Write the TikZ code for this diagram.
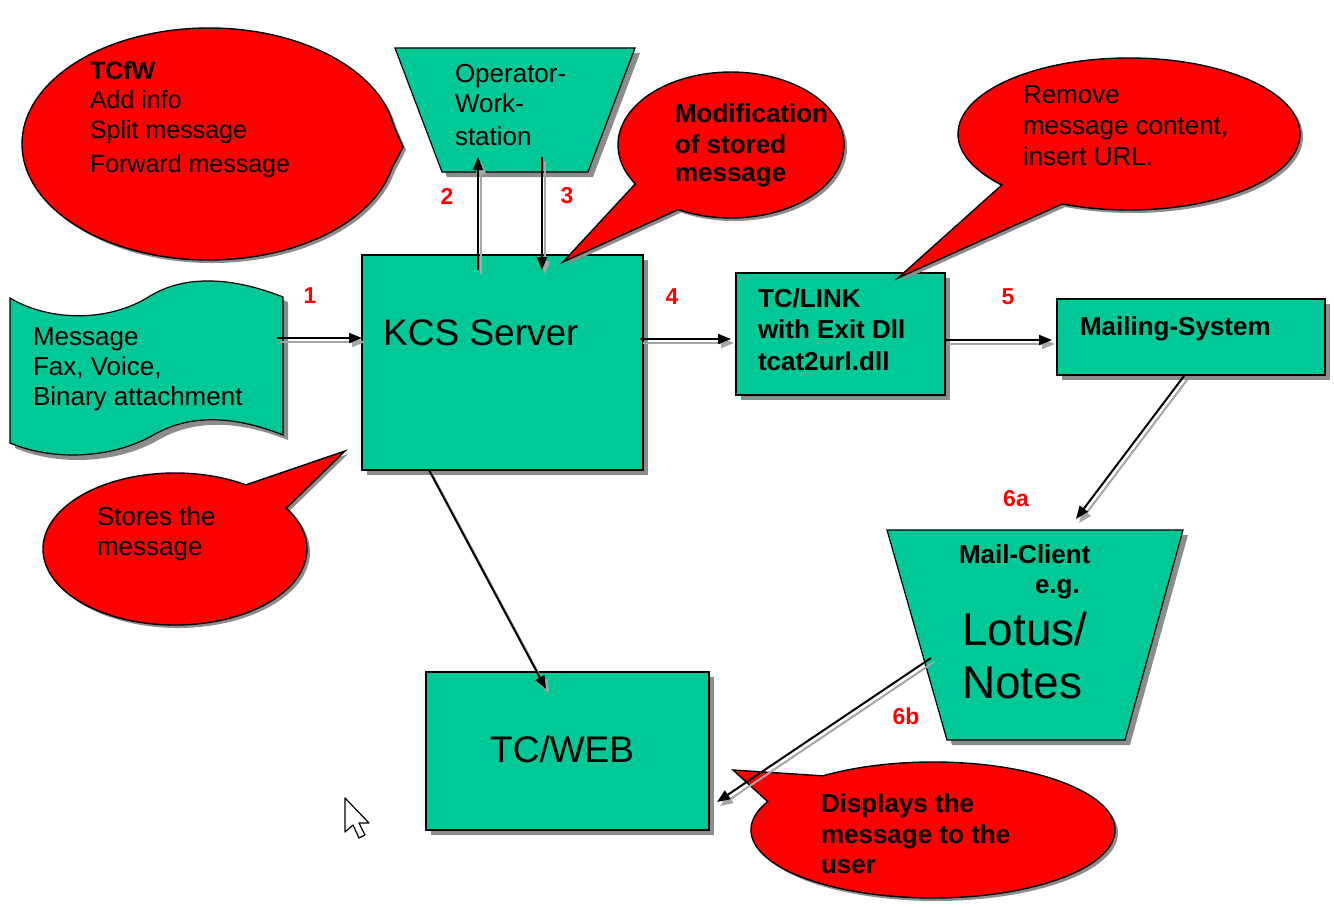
\documentclass[tikz,border=0pt]{standalone}
\usepackage{fontspec}
\setmainfont{Liberation Sans}
\usetikzlibrary{shapes.callouts,shadows,arrows.meta}
\definecolor{boxgreen}{RGB}{0,200,150}
\definecolor{callred}{RGB}{255,0,0}
\begin{document}
\begin{tikzpicture}[x=1pt,y=-1pt,
  box/.style={draw=black,line width=1.6pt,fill=boxgreen,rectangle,inner sep=0pt,outer sep=0pt,anchor=north west,
     drop shadow={shadow xshift=5pt,shadow yshift=-5pt,fill=black!45,opacity=1}},
  shapeshadow/.style={drop shadow={shadow xshift=5pt,shadow yshift=-5pt,fill=black!45,opacity=1}},
  bubble/.style={ellipse callout,draw=black,line width=1.4pt,fill=callred,inner sep=0pt,outer sep=0pt,callout pointer arc=25,
     drop shadow={shadow xshift=3pt,shadow yshift=-3pt,fill=black!45,opacity=1}},
  txt/.style={anchor=base west,inner sep=0pt,outer sep=0pt,font=\fontsize{26}{30}\selectfont},
  btxt/.style={anchor=base west,inner sep=0pt,outer sep=0pt,font=\fontsize{26}{30}\selectfont\bfseries},
  ctxt/.style={anchor=base west,inner sep=0pt,outer sep=0pt,font=\fontsize{25}{30}\selectfont},
  num/.style={inner sep=0pt,text=red,font=\fontsize{23}{26}\selectfont\bfseries},
  flow/.style={draw=black,line width=2pt,-{Triangle[length=13pt,width=10pt]}},
  flowsh/.style={draw=black!35,line width=2pt,-{Triangle[length=13pt,width=10pt]},transform canvas={shift={(3pt,-4pt)}}},
]
\useasboundingbox (0,0) rectangle (1334,907);
\fill[white] (0,0) rectangle (1334,907);

% ---- boxes ----
\node[box,minimum width=281pt,minimum height=215pt] (kcs) at (362,255) {};
\node[box,minimum width=209pt,minimum height=122pt] (tclink) at (736,273) {};
\node[box,minimum width=268pt,minimum height=76pt] (mailing) at (1057,299) {};
\node[box,minimum width=283pt,minimum height=158pt] (tcweb) at (426,672) {};

% ---- trapezoids ----
\draw[fill=boxgreen,line width=1.2pt,shapeshadow] (395,48) -- (635,48) -- (588,172) -- (442,172) -- cycle;
\coordinate (opws) at (515,110);
\draw[fill=boxgreen,line width=1.2pt,shapeshadow] (887,530) -- (1183,530) -- (1125,740) -- (947,740) -- cycle;
\coordinate (mailclient) at (1035,635);

% ---- wavy document ----
\draw[fill=boxgreen,line width=1.2pt,shapeshadow]
  (10,298) .. controls (50,322) and (110,322) .. (150,296)
  .. controls (190,272) and (240,280) .. (283,297)
  -- (283,435)
  .. controls (240,418) and (195,412) .. (155,434)
  .. controls (115,458) and (55,462) .. (10,443) -- cycle;
\coordinate (msg) at (145,370);

% ---- texts in shapes ----
\node[txt] (t-op1) at (455,83) {Operator-};
\node[txt] (t-op2) at (455,113) {Work-};
\node[txt] (t-op3) at (455,145) {station};
\node[txt] (t-m1) at (33,345) {Message};
\node[txt] (t-m2) at (33,375) {Fax, Voice,};
\node[txt] (t-m3) at (33,405) {Binary attachment};
\node[anchor=base west,inner sep=0pt,font=\fontsize{37}{40}\selectfont] (t-kcs) at (383,345) {KCS Server};
\node[btxt] (t-l1) at (758,307) {TC/LINK};
\node[btxt] (t-l2) at (758,338) {with Exit Dll};
\node[btxt] (t-l3) at (758,370) {tcat2url.dll};
\node[btxt] (t-ms) at (1080,335) {Mailing-System};
\node[btxt] (t-mc1) at (959,563) {Mail-Client};
\node[btxt] (t-mc2) at (1035,593) {e.g.};
\node[anchor=base west,inner sep=0pt,font=\fontsize{46}{50}\selectfont] (t-lotus) at (962,645) {Lotus/};
\node[anchor=base west,inner sep=0pt,font=\fontsize{46}{50}\selectfont] (t-notes) at (962,698) {Notes};
\node[anchor=base west,inner sep=0pt,font=\fontsize{37}{40}\selectfont] (t-web) at (490,762) {TC/WEB};

% ---- callouts ----
\node[bubble,minimum width=374pt,minimum height=232pt,callout pointer arc=22,callout absolute pointer={(403,147)}] (c-tcfw) at (209,144) {};
\node[bubble,minimum width=226pt,minimum height=146pt,callout pointer arc=30,callout absolute pointer={(563,262)}] (c-mod) at (731,145) {};
\node[bubble,minimum width=342pt,minimum height=152pt,callout absolute pointer={(898,278)}] (c-rem) at (1129,134) {};
\node[bubble,minimum width=264pt,minimum height=152pt,callout absolute pointer={(345,451)}] (c-sto) at (175,549) {};
\node[bubble,minimum width=364pt,minimum height=136pt,callout pointer arc=28,callout absolute pointer={(733,770)}] (c-dis) at (933,830) {};

\node[ctxt,font=\fontsize{25}{30}\selectfont\bfseries] (t-c1) at (90,80) {TCfW};
\node[ctxt] (t-c2) at (90,108) {Add info};
\node[ctxt] (t-c3) at (90,139) {Split message};
\node[ctxt] (t-c4) at (90,172) {Forward message};
\node[btxt] (t-md1) at (675,122) {Modification};
\node[btxt] (t-md2) at (675,153) {of stored};
\node[btxt] (t-md3) at (675,181) {message};
\node[txt] (t-r1) at (1023,103) {Remove};
\node[txt] (t-r2) at (1023,135) {message content,};
\node[txt] (t-r3) at (1023,165) {insert URL.};
\node[txt] (t-s1) at (97,525) {Stores the};
\node[txt] (t-s2) at (97,555) {message};
\node[btxt] (t-d1) at (821,812) {Displays the};
\node[btxt] (t-d2) at (821,843) {message to the};
\node[btxt] (t-d3) at (821,873) {user};

% ---- connector end points ----
\coordinate (a1s) at (277,338);  \coordinate (a1e) at (362,338);
\coordinate (a2s) at (478,270);  \coordinate (a2e) at (478,157);
\coordinate (a3s) at (542,157);  \coordinate (a3e) at (542,270);
\coordinate (a4s) at (640,339);  \coordinate (a4e) at (731,339);
\coordinate (a5s) at (945,340);  \coordinate (a5e) at (1052,340);
\coordinate (a6as) at (1184,376); \coordinate (a6ae) at (1076,519);
\coordinate (a6bs) at (931,658); \coordinate (a6be) at (717,802);
\coordinate (a7s) at (429,470);  \coordinate (a7e) at (546,689);

\foreach \s/\e in {a1s/a1e,a2s/a2e,a3s/a3e,a4s/a4e,a5s/a5e,a6as/a6ae,a6bs/a6be,a7s/a7e}{
  \draw[flowsh] (\s) -- (\e);
  \draw[flow] (\s) -- (\e);
}

% ---- step numbers ----
\node[num] (n1) at (310,296) {1};
\node[num] (n2) at (447,196) {2};
\node[num] (n3) at (567,196) {3};
\node[num] (n4) at (672,297) {4};
\node[num] (n5) at (1008,297) {5};
\node[num] (n6a) at (1016,499) {6a};
\node[num] (n6b) at (906,716) {6b};

% ---- mouse cursor ----
\draw[fill=white,line width=1.2pt,line join=round]
  (345,798) -- (345,832) -- (353,825) -- (359,838) -- (365,835) -- (359,823) -- (369,823) -- cycle;
\end{tikzpicture}
\end{document}
